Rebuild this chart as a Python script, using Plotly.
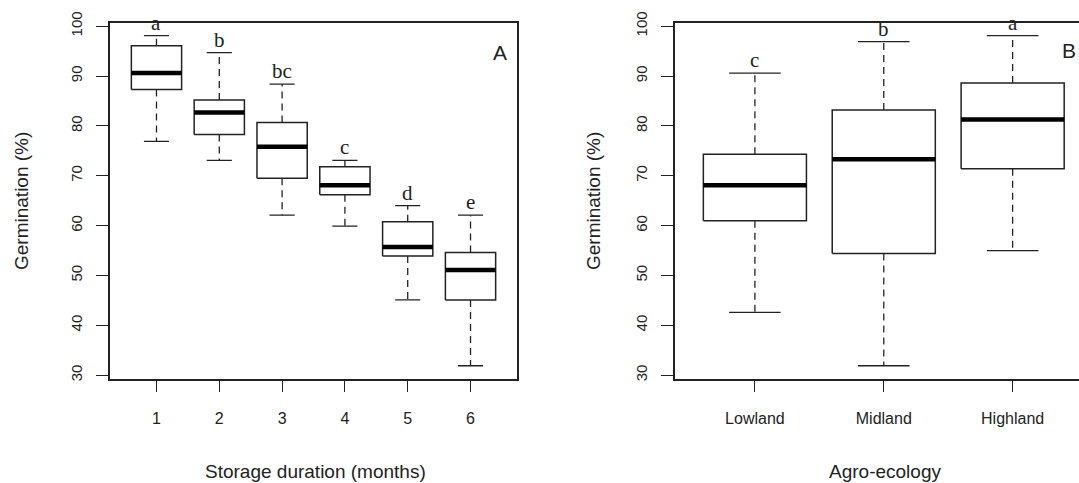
import plotly.graph_objects as go

# ---------------- data ----------------
storage_labels = ["1", "2", "3", "4", "5", "6"]
storage_lower = [76.9, 73.1, 62.1, 59.9, 45.1, 31.9]
storage_q1 = [87.3, 78.3, 69.5, 66.2, 53.9, 45.1]
storage_median = [90.6, 82.7, 75.8, 68.1, 55.7, 51.1]
storage_q3 = [96.1, 85.2, 80.7, 71.8, 60.8, 54.6]
storage_upper = [98.1, 94.7, 88.4, 73.1, 64.0, 62.1]
storage_letters = ["a", "b", "bc", "c", "d", "e"]

agro_labels = ["Lowland", "Midland", "Highland"]
agro_lower = [42.6, 31.9, 55.0]
agro_q1 = [61.0, 54.4, 71.4]
agro_median = [68.1, 73.3, 81.3]
agro_q3 = [74.3, 83.2, 88.6]
agro_upper = [90.6, 96.9, 98.1]
agro_letters = ["c", "b", "a"]

y_ticks = [30, 40, 50, 60, 70, 80, 90, 100]

# ---------------- styling ----------------
W, H = 1079, 483
INK = "#222222"
BOXW = 0.8
CAPW = 0.4
SANS = "Liberation Sans, Arial, sans-serif"
SERIF = "Liberation Serif, Times New Roman, serif"

fig = go.Figure()


def add_boxes(labels, lower, q1, med, q3, upper, xa, ya):
    bx, by, mx, my, wx, wy, cx, cy = [], [], [], [], [], [], [], []
    for i in range(len(labels)):
        p = i + 1
        l, r = p - BOXW / 2, p + BOXW / 2
        bx += [l, r, r, l, l, None]
        by += [q1[i], q1[i], q3[i], q3[i], q1[i], None]
        mx += [l, r, None]
        my += [med[i], med[i], None]
        wx += [p, p, None, p, p, None]
        wy += [q3[i], upper[i], None, q1[i], lower[i], None]
        cx += [p - CAPW / 2, p + CAPW / 2, None, p - CAPW / 2, p + CAPW / 2, None]
        cy += [upper[i], upper[i], None, lower[i], lower[i], None]
    common = dict(xaxis=xa, yaxis=ya, mode="lines", showlegend=False, hoverinfo="skip")
    fig.add_trace(go.Scatter(x=wx, y=wy, line=dict(color=INK, width=1.3, dash="7px,5px"), **common))
    fig.add_trace(go.Scatter(x=cx, y=cy, line=dict(color=INK, width=1.3), **common))
    fig.add_trace(go.Scatter(x=bx, y=by, fill="toself", fillcolor="white",
                             line=dict(color=INK, width=1.5), **common))
    fig.add_trace(go.Scatter(x=mx, y=my, line=dict(color="black", width=4.5), **common))


add_boxes(storage_labels, storage_lower, storage_q1, storage_median, storage_q3, storage_upper, "x", "y")
add_boxes(agro_labels, agro_lower, agro_q1, agro_median, agro_q3, agro_upper, "x2", "y2")

annotations = []
for i, t in enumerate(storage_letters):
    annotations.append(dict(x=i + 1, y=storage_upper[i], xref="x", yref="y", text=t,
                            showarrow=False, xanchor="center", yanchor="bottom", yshift=-1,
                            font=dict(family=SERIF, size=21, color=INK)))
for i, t in enumerate(agro_letters):
    annotations.append(dict(x=i + 1, y=agro_upper[i], xref="x2", yref="y2", text=t,
                            showarrow=False, xanchor="center", yanchor="bottom", yshift=-1,
                            font=dict(family=SERIF, size=21, color=INK)))

# panel letters
annotations.append(dict(x=500 / W, y=1 - 52 / H, xref="paper", yref="paper", text="A",
                        showarrow=False, xanchor="center", yanchor="middle",
                        font=dict(family=SANS, size=21, color=INK)))
annotations.append(dict(x=1078 / W, y=1 - 51 / H, xref="paper", yref="paper", text="B",
                        showarrow=False, xanchor="right", yanchor="middle",
                        font=dict(family=SANS, size=21, color=INK)))

# axis titles
annotations.append(dict(x=315 / W, y=1 - 471 / H, xref="paper", yref="paper",
                        text="Storage duration (months)", showarrow=False,
                        xanchor="center", yanchor="middle",
                        font=dict(family=SANS, size=19, color=INK)))
annotations.append(dict(x=885 / W, y=1 - 471 / H, xref="paper", yref="paper",
                        text="Agro-ecology", showarrow=False,
                        xanchor="center", yanchor="middle",
                        font=dict(family=SANS, size=19, color=INK)))
annotations.append(dict(x=21 / W, y=1 - 201 / H, xref="paper", yref="paper",
                        text="Germination (%)", showarrow=False, textangle=-90,
                        xanchor="center", yanchor="middle",
                        font=dict(family=SANS, size=19, color=INK)))
annotations.append(dict(x=593 / W, y=1 - 201 / H, xref="paper", yref="paper",
                        text="Germination (%)", showarrow=False, textangle=-90,
                        xanchor="center", yanchor="middle",
                        font=dict(family=SANS, size=19, color=INK)))

ydom = [1 - 378.7 / H, 1 - 22.7 / H]
yax = dict(domain=ydom, range=[29.3, 100.7], tickvals=y_ticks, ticktext=[str(v) for v in y_ticks],
           tickangle=-90, ticks="outside", ticklen=12, tickwidth=1.3, tickcolor=INK,
           showline=True, linecolor=INK, linewidth=1.5, showgrid=False, zeroline=False,
           automargin=False, ticklabelstandoff=8,
           tickfont=dict(family=SANS, size=15, color=INK))
xax_common = dict(ticks="outside", ticklen=12, tickwidth=1.3, tickcolor=INK,
                  showline=True, linecolor=INK, linewidth=1.5, mirror=True,
                  showgrid=False, zeroline=False, automargin=False, ticklabelstandoff=12,
                  tickfont=dict(family=SANS, size=16, color=INK))

fig.update_layout(
    width=W, height=H,
    autosize=False,
    margin=dict(l=0, r=0, t=0, b=0, pad=0),
    paper_bgcolor="white", plot_bgcolor="white",
    xaxis=dict(domain=[110 / W, 517 / W], range=[0.26, 6.74], anchor="y",
               tickvals=list(range(1, len(storage_labels) + 1)), ticktext=storage_labels,
               **xax_common),
    yaxis=dict(anchor="x", mirror=True, **yax),
    xaxis2=dict(domain=[675 / W, 1.0], range=[0.38, 3.515], anchor="y2",
                tickvals=list(range(1, len(agro_labels) + 1)), ticktext=agro_labels,
                **xax_common),
    yaxis2=dict(anchor="x2", mirror=False, **yax),
    annotations=annotations,
)

fig.write_html("out.html", config={"displayModeBar": False},
               post_script="document.body.style.margin='0px';document.body.style.overflow='hidden';")
